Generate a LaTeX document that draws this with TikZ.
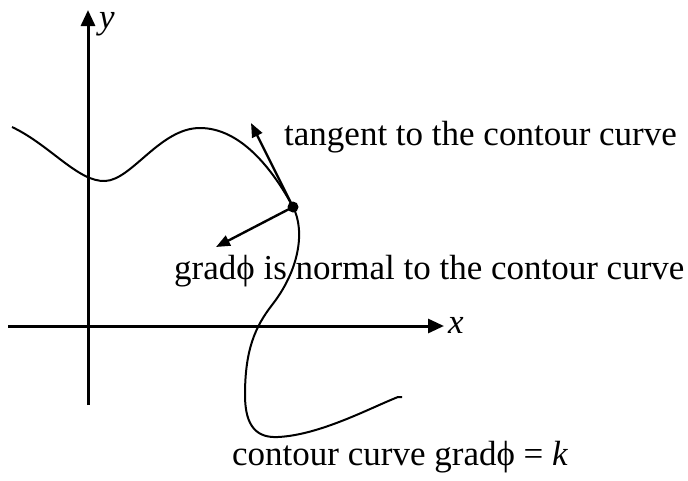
\documentclass[tikz,border=0pt]{standalone}
\usepackage{fontspec}
\setmainfont{Liberation Serif}
\usetikzlibrary{arrows.meta}
\tikzset{
  axis/.style={line width=3pt,-{Triangle[length=16pt,width=14pt]}},
  vec/.style={line width=2.4pt,-{Triangle[length=14pt,width=11pt]}},
  curveline/.style={line width=2pt},
  lbl/.style={font=\fontsize{35}{40}\selectfont,inner sep=0pt},
  ital/.style={font=\fontsize{35}{40}\selectfont\itshape,inner sep=0pt},
}
\begin{document}
\begin{tikzpicture}[x=1pt,y=-1pt]
\useasboundingbox (0,0) rectangle (688,480);
% axes
\coordinate (ybot) at (88,405);
\coordinate (ytop) at (88,10);
\coordinate (xl) at (8,326);
\coordinate (xr) at (444,326);
\draw[axis] (ybot) -- (ytop);
\draw[axis] (xl) -- (xr);
\node[ital,anchor=base] (ylab) at (107,28) {y};
\node[ital,anchor=base] (xlab) at (456,333) {x};
% contour curve
\draw[curveline] (12,127) .. controls (50,145) and (78,182) .. (105,181)
  .. controls (132,180) and (160,128) .. (200,128)
  .. controls (240,128) and (272,168) .. (293,207)
  .. controls (306,232) and (298,272) .. (272,305)
  .. controls (255,327) and (245,350) .. (245,395)
  .. controls (245,428) and (258,438) .. (278,437)
  .. controls (320,435) and (370,408) .. (398,397)
  -- (402,397);
% point and vectors
\node[circle,fill=black,inner sep=0pt,minimum size=11pt] (P) at (293,207) {};
\coordinate (tanTip) at (251,123);
\coordinate (gradTip) at (216,247);
\draw[vec] (P.center) -- (tanTip);
\draw[vec] (P.center) -- (gradTip);
% labels
\node[lbl,anchor=base west] (tanlab) at (284,145) {tangent to the contour curve};
\node[lbl,anchor=base west] (gradlab) at (174,279) {gradϕ is normal to the contour curve};
\node[lbl,anchor=base west] (contlab) at (232,465) {contour curve gradϕ = \textit{k}};
\end{tikzpicture}
\end{document}
